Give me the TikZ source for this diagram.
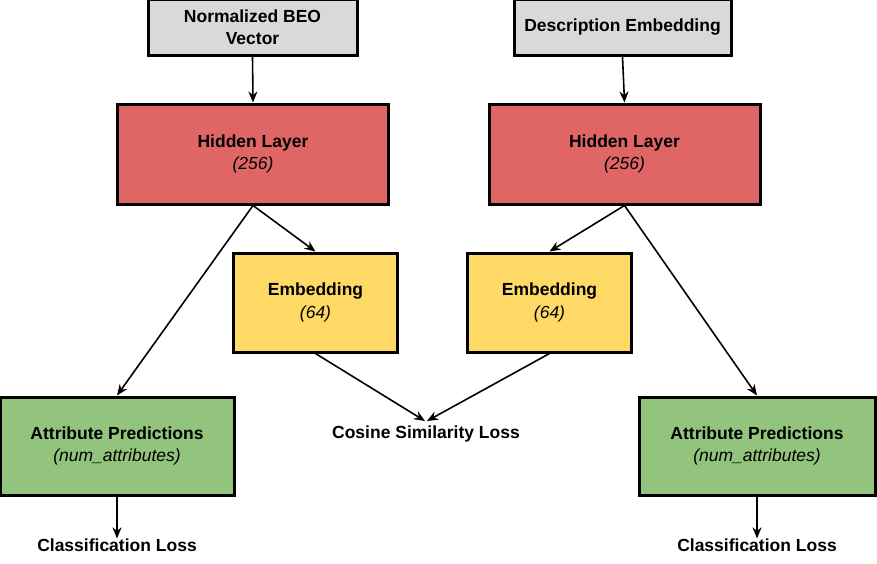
\documentclass[tikz,border=0pt]{standalone}
\usepackage{fontspec}
\setmainfont{Liberation Sans}
\usetikzlibrary{arrows.meta}
\definecolor{cgray}{HTML}{D9D9D9}
\definecolor{cred}{HTML}{E06666}
\definecolor{cyellow}{HTML}{FFD966}
\definecolor{cgreen}{HTML}{93C47D}
\begin{document}
\begin{tikzpicture}[x=1pt,y=-1pt,
  box/.style={draw=black,line width=3pt,rectangle,align=center,inner sep=0pt,
    font=\fontsize{17.5}{22.5}\selectfont\bfseries},
  lbl/.style={font=\fontsize{17.5}{22.5}\selectfont\bfseries,inner sep=0pt},
  arr/.style={line width=1.6pt,-{Stealth[length=11pt,width=9pt]}}]
\useasboundingbox (0,0) rectangle (877,563);
\node[box,fill=cgray,minimum width=209pt,minimum height=56pt] (in1) at (252.5,27) {Normalized BEO\\Vector};
\node[box,fill=cgray,minimum width=217pt,minimum height=56pt] (in2) at (622.5,27) {Description Embedding};
\node[box,fill=cred,minimum width=271pt,minimum height=100pt] (h1) at (253,154) {Hidden Layer\\{\mdseries\itshape (256)}};
\node[box,fill=cred,minimum width=271pt,minimum height=100pt] (h2) at (624.5,154) {Hidden Layer\\{\mdseries\itshape (256)}};
\node[box,fill=cyellow,minimum width=164pt,minimum height=99pt] (e1) at (315.5,302.5) {Embedding\\{\mdseries\itshape (64)}};
\node[box,fill=cyellow,minimum width=164pt,minimum height=99pt] (e2) at (549.5,302.5) {Embedding\\{\mdseries\itshape (64)}};
\node[box,fill=cgreen,minimum width=234pt,minimum height=98pt] (a1) at (117,446) {Attribute Predictions\\{\mdseries\itshape (num\_attributes)}};
\node[box,fill=cgreen,minimum width=236pt,minimum height=98pt] (a2) at (757,446) {Attribute Predictions\\{\mdseries\itshape (num\_attributes)}};
\node[lbl] (cos) at (426,434) {Cosine Similarity Loss};
\node[lbl] (c1) at (117,545) {Classification Loss};
\node[lbl] (c2) at (757,545) {Classification Loss};
\coordinate (cosT) at (426,421);
\draw[arr] (in1.south) -- (h1.north);
\draw[arr] (in2.south) -- (h2.north);
\draw[arr] (h1.south) -- (e1.north);
\draw[arr] (h1.south) -- (a1.north);
\draw[arr] (h2.south) -- (e2.north);
\draw[arr] (h2.south) -- (a2.north);
\draw[arr] (e1.south) -- ([xshift=-1pt]cosT);
\draw[arr] (e2.south) -- ([xshift=1pt]cosT);
\draw[arr] (a1.south) -- (c1.north);
\draw[arr] (a2.south) -- (c2.north);
\end{tikzpicture}
\end{document}
